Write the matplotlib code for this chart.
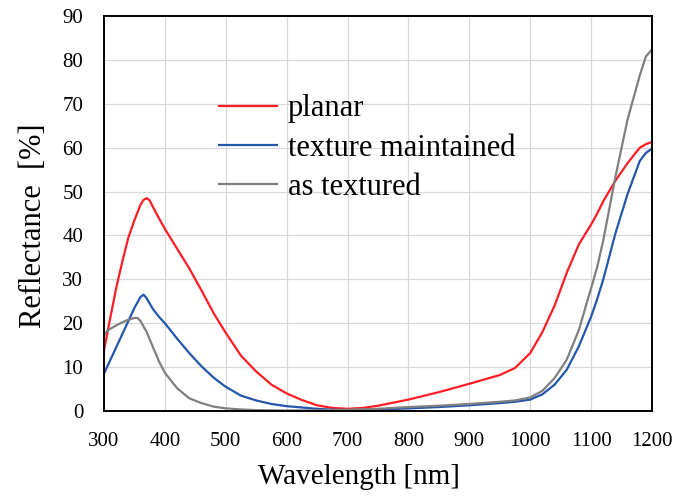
import matplotlib
matplotlib.use("Agg")
import matplotlib.pyplot as plt

# ---------------------------------------------------------------
# Data (wavelength in nm, reflectance in %)
wl_planar = [300, 310, 320, 330, 340, 350, 360, 365, 370, 375, 380, 390,
             400, 420, 440, 460, 480, 500, 525, 550, 575, 600, 625, 650,
             675, 700, 725, 750, 800, 850, 900, 950, 975, 1000, 1020,
             1040, 1060, 1080, 1100, 1110, 1120, 1140, 1160, 1180, 1190,
             1200]
r_planar = [13.8, 21.0, 28.0, 34.0, 39.5, 43.5, 47.0, 48.1, 48.5, 48.0,
            46.6, 44.0, 41.5, 37.0, 32.5, 27.5, 22.3, 17.8, 12.6, 9.0,
            6.0, 4.0, 2.5, 1.3, 0.7, 0.5, 0.7, 1.2, 2.6, 4.3, 6.2, 8.2,
            9.8, 13.2, 18.0, 24.0, 31.5, 38.0, 42.5, 45.0, 47.8, 52.5,
            56.5, 60.0, 60.8, 61.3]

wl_maint = [300, 310, 320, 330, 340, 350, 360, 365, 370, 380, 390, 400,
            420, 440, 460, 480, 500, 525, 550, 575, 600, 625, 650, 675,
            700, 725, 750, 800, 850, 900, 950, 975, 1000, 1020, 1040,
            1060, 1080, 1100, 1110, 1120, 1140, 1160, 1180, 1190, 1200]
r_maint = [8.5, 11.5, 14.5, 17.5, 20.5, 23.5, 26.0, 26.5, 25.7, 23.3,
           21.5, 20.0, 16.5, 13.2, 10.2, 7.6, 5.5, 3.5, 2.4, 1.6, 1.1,
           0.8, 0.5, 0.3, 0.2, 0.2, 0.3, 0.6, 0.9, 1.3, 1.8, 2.1, 2.6,
           3.8, 6.0, 9.4, 14.8, 21.5, 25.5, 30.0, 40.5, 49.5, 57.0,
           58.8, 59.8]

wl_tex = [300, 305, 310, 320, 330, 340, 350, 355, 360, 370, 380, 390,
          400, 420, 440, 460, 480, 500, 525, 550, 575, 600, 650, 700,
          750, 800, 850, 900, 950, 975, 1000, 1020, 1040, 1060, 1080,
          1100, 1110, 1120, 1140, 1160, 1180, 1190, 1200]
r_tex = [17.3, 18.2, 18.7, 19.5, 20.2, 20.8, 21.2, 21.2, 20.5, 18.0,
         14.7, 11.4, 8.7, 5.2, 2.9, 1.8, 1.0, 0.6, 0.35, 0.2, 0.15, 0.1,
         0.15, 0.3, 0.5, 0.9, 1.2, 1.6, 2.1, 2.4, 3.1, 4.6, 7.5, 11.7,
         18.5, 28.0, 32.8, 38.9, 53.4, 66.5, 76.5, 80.8, 82.4]

x_ticks = [300, 400, 500, 600, 700, 800, 900, 1000, 1100, 1200]
y_ticks = [0, 10, 20, 30, 40, 50, 60, 70, 80, 90]
# ---------------------------------------------------------------

plt.rcParams['font.family'] = ['Liberation Serif', 'DejaVu Serif']

fig = plt.figure(figsize=(6.74, 4.96), dpi=100)
ax = fig.add_axes([104 / 674, 1 - 411 / 496, 548 / 674, 395 / 496])

ax.plot(wl_planar, r_planar, color="#ff1c24", linewidth=1.6, label="planar")
ax.plot(wl_maint, r_maint, color="#2356ac", linewidth=1.6,
        label="texture maintained")
ax.plot(wl_tex, r_tex, color="#7f7f7f", linewidth=1.6, label="as textured")

ax.set_xlim(300, 1200)
ax.set_ylim(0, 90)
ax.set_xticks(x_ticks)
ax.set_yticks(y_ticks)
ax.tick_params(axis="both", length=0, labelsize=15, pad=15)
ax.grid(True, color="#d9d9d9", linewidth=0.9)
ax.set_axisbelow(True)
for s in ax.spines.values():
    s.set_linewidth(1.4)
    s.set_color("black")

ax.set_xlabel("Wavelength [nm]", fontsize=21)
ax.set_ylabel("Reflectance  [%]", fontsize=22)
ax.xaxis.set_label_coords(0.465, -0.135)
ax.yaxis.set_label_coords(-0.102, 0.47)

ax.legend(loc="upper left", bbox_to_anchor=(0.21, 0.802), frameon=False,
          fontsize=22, handlelength=1.9, handletextpad=0.35,
          labelspacing=0.34, borderpad=0, borderaxespad=0)

fig.savefig("out.png", dpi=100)
